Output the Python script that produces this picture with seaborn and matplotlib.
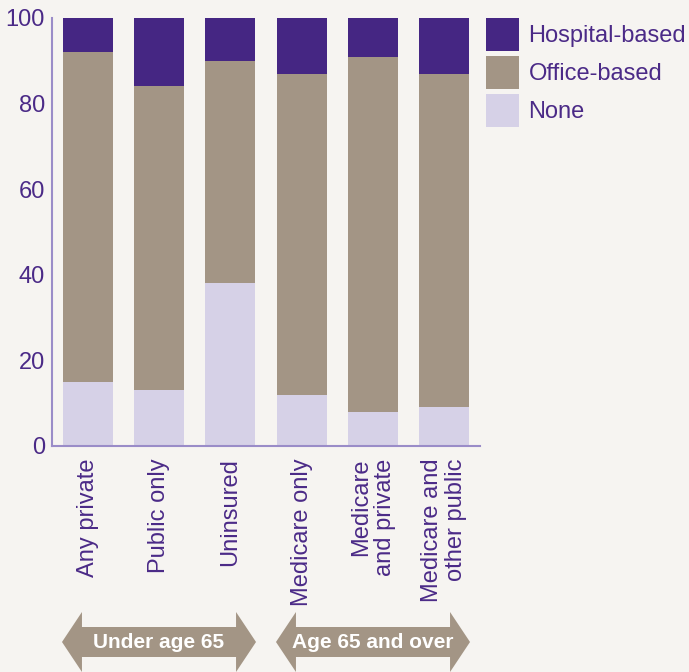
import matplotlib
matplotlib.use("Agg")
import matplotlib.pyplot as plt
import matplotlib.transforms as mtransforms
from matplotlib.patches import Polygon, Patch
import numpy as np
import pandas as pd
import seaborn as sns

# Data (percent of visits by setting)
categories = ["Any private", "Public only", "Uninsured", "Medicare only",
              "Medicare\nand private", "Medicare and\nother public"]
none_vals = [15, 13, 38, 12, 8, 9]
office_vals = [77, 71, 52, 75, 83, 78]
hospital_vals = [8, 16, 10, 13, 9, 13]
series_names = ["Hospital-based", "Office-based", "None"]
groups = ["Under age 65", "Age 65 and over"]
group_members = [[0, 1, 2], [3, 4, 5]]

# Colours
c_hosp = "#452683"
c_office = "#a39585"
c_none = "#d6d1e7"
c_text = "#4b2a87"
c_axis = "#9a8cc8"
c_bg = "#f6f4f1"

sns.set_style("white")
plt.rcParams["font.family"] = ["Liberation Sans", "DejaVu Sans"]

df = pd.DataFrame({"category": categories, "none": none_vals,
                   "office": office_vals, "hospital": hospital_vals})
df["cum_none"] = df["none"]
df["cum_office"] = df["none"] + df["office"]
df["cum_hosp"] = df["cum_office"] + df["hospital"]

fig = plt.figure(figsize=(6.89, 6.72), dpi=100, facecolor=c_bg)
ax = fig.add_axes([52 / 689, 226 / 672, 428 / 689, 428 / 672])
ax.set_facecolor("none")

# stacked bars: draw cumulative totals, tallest first
for col, c in [("cum_hosp", c_hosp), ("cum_office", c_office), ("cum_none", c_none)]:
    sns.barplot(data=df, x="category", y=col, color=c, width=0.7,
                saturation=1, linewidth=0, edgecolor="none", ax=ax)

ax.set_ylim(0, 100)
ax.set_xlim(-0.5, 5.5)
ax.set_yticks(np.arange(0, 101, 20))
ax.set_xlabel("")
ax.set_ylabel("")
sns.despine(ax=ax)
for s in ["left", "bottom"]:
    ax.spines[s].set_color(c_axis)
    ax.spines[s].set_linewidth(1.5)
ax.tick_params(axis="y", length=0, pad=5, labelsize=17, labelcolor=c_text)
ax.tick_params(axis="x", length=0, pad=9, labelsize=17, labelcolor=c_text)
for lab in ax.get_xticklabels():
    lab.set_rotation(90)
    lab.set_va("top")
    lab.set_ha("center")
    lab.set_multialignment("right")
    lab.set_linespacing(1.1)

# legend
handles = [Patch(facecolor=c, edgecolor="none") for c in [c_hosp, c_office, c_none]]
fig.legend(handles, series_names, loc="upper left",
           bbox_to_anchor=(486 / 689, 1 - 18 / 672), frameon=False,
           fontsize=17, labelcolor=c_text, handlelength=1.4, handleheight=1.78,
           handletextpad=0.4, labelspacing=0.2, borderpad=0, borderaxespad=0)

# double-headed group arrows below the labels
trans = mtransforms.blended_transform_factory(ax.transData, fig.transFigure)
yc = 30 / 672
shaft = 15 / 672
head = 30 / 672
hl = 0.28
for name, members in zip(groups, group_members):
    x0 = members[0] - 0.36
    x1 = members[-1] + 0.36
    pts = [(x0, yc), (x0 + hl, yc + head), (x0 + hl, yc + shaft),
           (x1 - hl, yc + shaft), (x1 - hl, yc + head), (x1, yc),
           (x1 - hl, yc - head), (x1 - hl, yc - shaft), (x0 + hl, yc - shaft),
           (x0 + hl, yc - head)]
    fig.patches.append(Polygon(pts, closed=True, transform=trans,
                               facecolor=c_office, edgecolor="none"))
    fig.text(np.mean(members), yc, name, transform=trans, ha="center",
             va="center", color="white", fontsize=15, fontweight="bold")

fig.savefig("out.png", dpi=100, facecolor=c_bg)
